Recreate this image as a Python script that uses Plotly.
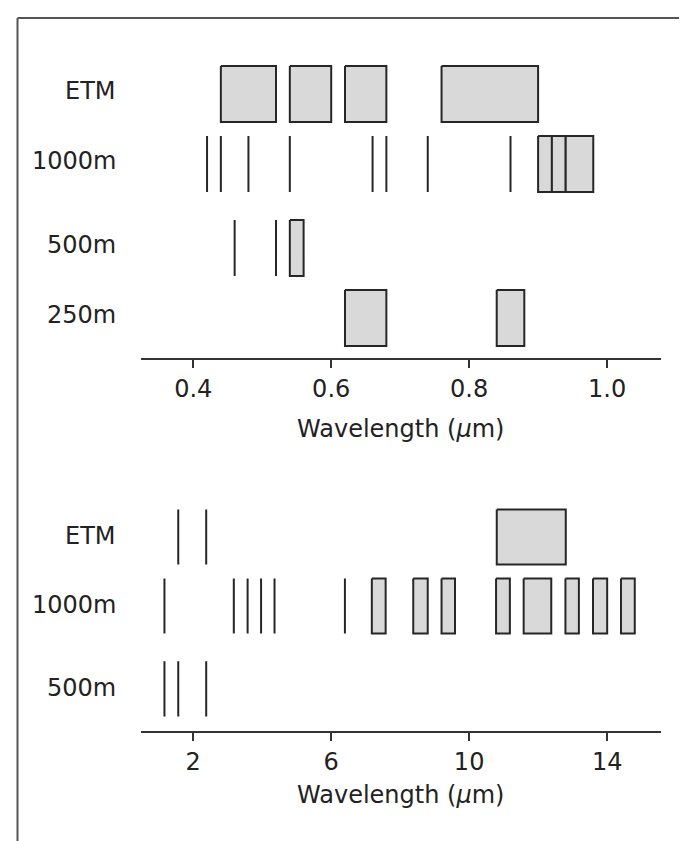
import plotly.graph_objects as go

# ---------------- data (wavelengths in micrometres) ----------------
top_rows = ["ETM", "1000m", "500m", "250m"]
top_ticks = [0.4, 0.6, 0.8, 1.0]
top_ticktext = ["0.4", "0.6", "0.8", "1.0"]

top_etm_lines = []
top_etm_boxes = [(0.44, 0.52), (0.54, 0.60), (0.62, 0.68), (0.76, 0.90)]
top_1000_lines = [0.42, 0.44, 0.48, 0.54, 0.66, 0.68, 0.74, 0.86]
top_1000_boxes = [(0.90, 0.92), (0.92, 0.94), (0.94, 0.98)]
top_500_lines = [0.46, 0.52]
top_500_boxes = [(0.54, 0.56)]
top_250_lines = []
top_250_boxes = [(0.62, 0.68), (0.84, 0.88)]

bot_rows = ["ETM", "1000m", "500m"]
bot_ticks = [2, 6, 10, 14]
bot_ticktext = ["2", "6", "10", "14"]

bot_etm_lines = [1.57, 2.38]
bot_etm_boxes = [(10.8, 12.8)]
bot_1000_lines = [1.17, 3.18, 3.58, 3.97, 4.36, 6.40]
bot_1000_boxes = [(7.18, 7.58), (8.38, 8.80), (9.20, 9.59), (10.78, 11.18),
                  (11.58, 12.38), (12.79, 13.18), (13.59, 14.00), (14.40, 14.80)]
bot_500_lines = [1.17, 1.57, 2.38]
bot_500_boxes = []

# ---------------- drawing ----------------
W, H = 687, 841
FONT = "DejaVu Sans, Verdana, sans-serif"
FS = 24
TXT = "#222222"
LINE = "#262626"
FILL = "#d9d9d9"
HALF = 0.4

fig = go.Figure()


def add_row(xa, ya, center, lines, boxes):
    if lines:
        xs, ys = [], []
        for x in lines:
            xs += [x, x, None]
            ys += [center - HALF, center + HALF, None]
        fig.add_trace(go.Scatter(x=xs, y=ys, mode="lines", xaxis=xa, yaxis=ya,
                                 line=dict(color=LINE, width=2),
                                 hoverinfo="skip", showlegend=False))
    for a, b in boxes:
        fig.add_trace(go.Scatter(
            x=[a, b, b, a, a],
            y=[center - HALF, center - HALF, center + HALF, center + HALF, center - HALF],
            mode="lines", fill="toself", fillcolor=FILL, xaxis=xa, yaxis=ya,
            line=dict(color=LINE, width=2), hoverinfo="skip", showlegend=False))


top_pos = [0, 1, 2.2, 3.2]
top_data = [(top_etm_lines, top_etm_boxes), (top_1000_lines, top_1000_boxes),
            (top_500_lines, top_500_boxes), (top_250_lines, top_250_boxes)]
for p, (ln, bx) in zip(top_pos, top_data):
    add_row("x", "y", p, ln, bx)

bot_pos = [0, 1, 2.2]
bot_data = [(bot_etm_lines, bot_etm_boxes), (bot_1000_lines, bot_1000_boxes),
            (bot_500_lines, bot_500_boxes)]
for p, (ln, bx) in zip(bot_pos, bot_data):
    add_row("x2", "y2", p, ln, bx)

xdom = [132.5 / W, 653.0 / W]
axis_common = dict(
    domain=xdom, showgrid=False, zeroline=False, showline=True,
    linecolor="#333333", linewidth=2, ticks="outside", ticklen=8,
    tickwidth=2, tickcolor="#333333",
    tickfont=dict(family=FONT, size=FS, color=TXT),
)

fig.update_layout(
    width=W, height=H,
    margin=dict(l=0, r=0, t=0, b=0),
    paper_bgcolor="white", plot_bgcolor="white",
    font=dict(family=FONT, color=TXT),
    xaxis=dict(axis_common, anchor="y", range=[0.3235, 1.0782],
               tickvals=top_ticks, ticktext=top_ticktext,
               title=dict(text="Wavelength (<i>μ</i>m)", standoff=18,
                          font=dict(family=FONT, size=FS, color=TXT))),
    yaxis=dict(domain=[1 - 350 / H, 1 - 40 / H], range=[3.771, -0.657],
               visible=False, fixedrange=True),
    xaxis2=dict(axis_common, anchor="y2", range=[0.476, 15.56],
                tickvals=bot_ticks, ticktext=bot_ticktext,
                title=dict(text="Wavelength (<i>μ</i>m)", standoff=11,
                           font=dict(family=FONT, size=FS, color=TXT))),
    yaxis2=dict(domain=[1 - 723.3 / H, 1 - 460 / H], range=[2.816, -1.0],
                visible=False, fixedrange=True),
)

for name, p in zip(top_rows, top_pos):
    fig.add_annotation(xref="paper", yref="y", x=109.5 / W, y=p, text=name,
                       xanchor="right", yanchor="middle", showarrow=False,
                       yshift=3, font=dict(family=FONT, size=FS, color=TXT))
for name, p in zip(bot_rows, bot_pos):
    fig.add_annotation(xref="paper", yref="y2", x=109.5 / W, y=p, text=name,
                       xanchor="right", yanchor="middle", showarrow=False,
                       yshift=1, font=dict(family=FONT, size=FS, color=TXT))

# frame of the figure panel (top and left edges)
fx, fy = 9.5 / W, 1 - 10 / H
fig.add_shape(type="line", xref="paper", yref="paper", x0=fx, y0=fy, x1=1, y1=fy,
              line=dict(color="#555555", width=2))
fig.add_shape(type="line", xref="paper", yref="paper", x0=fx, y0=fy, x1=fx, y1=0,
              line=dict(color="#555555", width=2))

fig.write_html("out.html")
